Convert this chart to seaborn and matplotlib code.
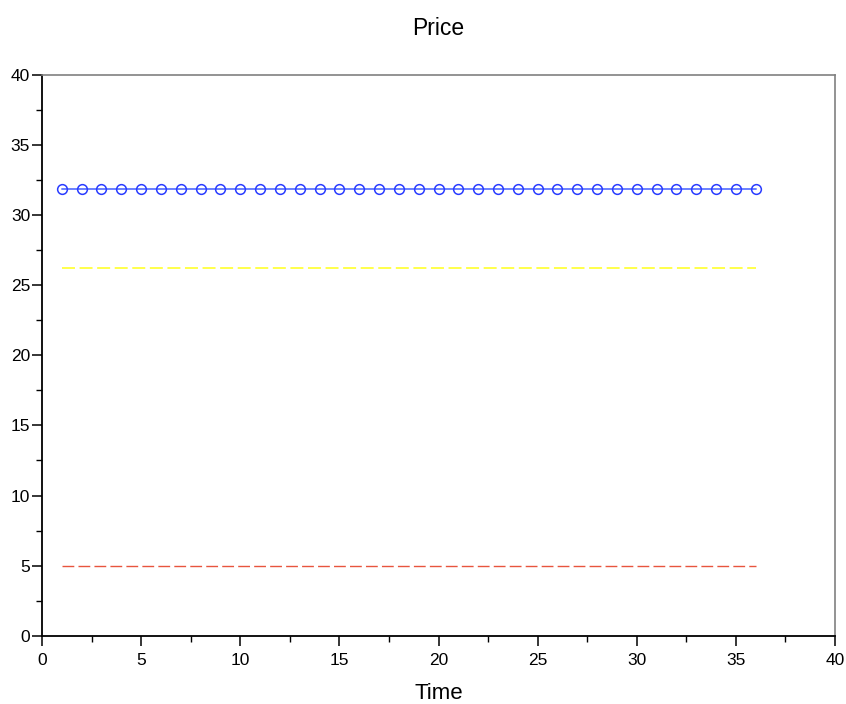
import pandas as pd
import seaborn as sns
import matplotlib.pyplot as plt
from matplotlib.ticker import MultipleLocator

# time steps and the three series
time = [1, 2, 3, 4, 5, 6, 7, 8, 9, 10, 11, 12, 13, 14, 15, 16, 17, 18,
        19, 20, 21, 22, 23, 24, 25, 26, 27, 28, 29, 30, 31, 32, 33, 34, 35, 36]
price = [31.9, 31.9, 31.9, 31.9, 31.9, 31.9, 31.9, 31.9, 31.9, 31.9, 31.9, 31.9,
         31.9, 31.9, 31.9, 31.9, 31.9, 31.9, 31.9, 31.9, 31.9, 31.9, 31.9, 31.9,
         31.9, 31.9, 31.9, 31.9, 31.9, 31.9, 31.9, 31.9, 31.9, 31.9, 31.9, 31.9]
upper = [26.2, 26.2, 26.2, 26.2, 26.2, 26.2, 26.2, 26.2, 26.2, 26.2, 26.2, 26.2,
         26.2, 26.2, 26.2, 26.2, 26.2, 26.2, 26.2, 26.2, 26.2, 26.2, 26.2, 26.2,
         26.2, 26.2, 26.2, 26.2, 26.2, 26.2, 26.2, 26.2, 26.2, 26.2, 26.2, 26.2]
lower = [5, 5, 5, 5, 5, 5, 5, 5, 5, 5, 5, 5, 5, 5, 5, 5, 5, 5,
         5, 5, 5, 5, 5, 5, 5, 5, 5, 5, 5, 5, 5, 5, 5, 5, 5, 5]

df = pd.DataFrame({"Time": time, "Price": price, "Upper": upper, "Lower": lower})

sns.set_style("white")
plt.rcParams['font.family'] = ['Liberation Sans', 'DejaVu Sans']
plt.rcParams['text.color'] = 'black'
plt.rcParams['axes.labelcolor'] = 'black'

fig = plt.figure(figsize=(8.46, 7.04), dpi=100)
ax = fig.add_axes([42 / 846, 1 - 635.7 / 704, 793 / 846, 560.7 / 704])

# price line with open circles
sns.lineplot(data=df, x="Time", y="Price", ax=ax, color="#6a80ff", lw=1.4,
             marker="o", markersize=7, markerfacecolor="none",
             markeredgecolor="#2a3cff", markeredgewidth=1.1)
# dashed bounds
sns.lineplot(data=df, x="Time", y="Upper", ax=ax, color="#ffff1a", lw=1.1,
             dashes=False, linestyle=(0, (8.5, 3)))
sns.lineplot(data=df, x="Time", y="Lower", ax=ax, color="#e8553e", lw=1.0,
             dashes=False, linestyle=(0, (8.5, 3)))

ax.set_xlim(0, 40)
ax.set_ylim(0, 40)
ax.xaxis.set_major_locator(MultipleLocator(5))
ax.yaxis.set_major_locator(MultipleLocator(5))
ax.xaxis.set_minor_locator(MultipleLocator(2.5))
ax.yaxis.set_minor_locator(MultipleLocator(2.5))

for side in ["left", "bottom"]:
    ax.spines[side].set_color("black")
    ax.spines[side].set_linewidth(1.3)
for side in ["top", "right"]:
    ax.spines[side].set_color("#808080")
    ax.spines[side].set_linewidth(1.2)

ax.tick_params(axis="both", which="both", direction="out", colors="black",
               left=True, bottom=True, top=False, right=False)
ax.tick_params(axis="both", which="major", length=7, width=1.1, labelsize=12.5)
ax.tick_params(axis="both", which="minor", length=4, width=1.0)
ax.tick_params(axis="x", which="major", pad=5.5)
ax.tick_params(axis="y", which="major", pad=1.5)

ax.set_title("Price", fontsize=16.5, pad=29, color="black")
ax.set_xlabel("Time", fontsize=16, labelpad=11)
ax.set_ylabel("")

fig.savefig("out.png", dpi=100)
